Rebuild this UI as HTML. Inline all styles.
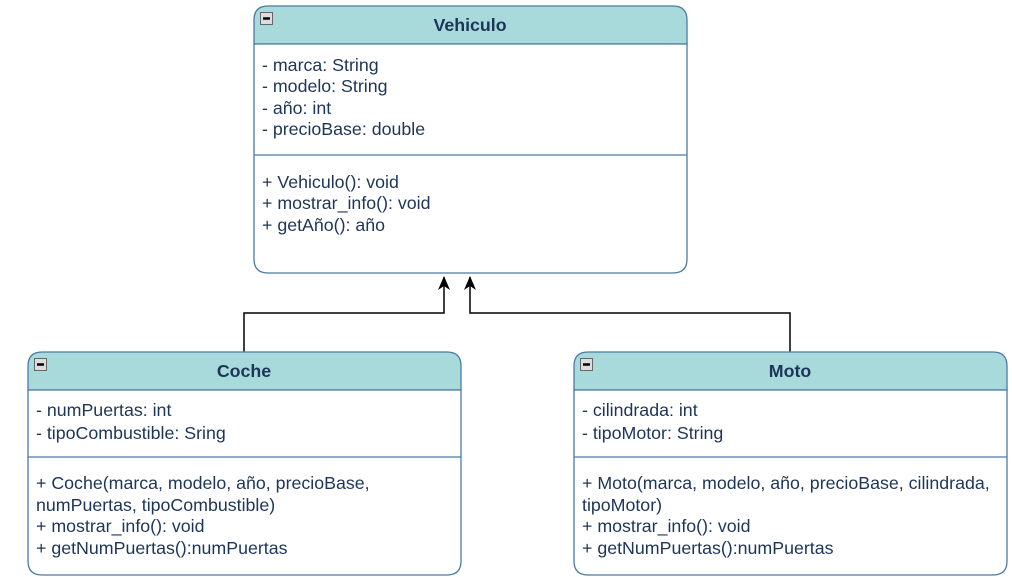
<!DOCTYPE html>
<html><head><meta charset="utf-8"><style>body{margin:0;background:#fff}svg{display:block}text{font-family:"Liberation Sans",Arial,sans-serif;font-size:17.8px;fill:#1d3557}</style></head><body>
<svg width="1012" height="577" viewBox="0 0 1012 577">
<defs><marker id="a" markerWidth="12" markerHeight="14" refX="6" refY="1" orient="0" markerUnits="userSpaceOnUse"><path d="M0,14 L6,0 L12,14 L6,10 Z" fill="#000"/></marker></defs>
<g fill="none" stroke="#000" stroke-width="1.5">
<path d="M244,352 V313 H444 V277" marker-end="url(#a)"/>
<path d="M790,352 V313 H470 V277" marker-end="url(#a)"/>
</g>
<g stroke="#4a7ba3" stroke-width="1.3">
<path d="M254,44 V20 Q254,6 268,6 H673 Q687,6 687,20 V44 Z" fill="#a8dadc"/>
<path d="M254,44 H687 V259 Q687,273 673,273 H268 Q254,273 254,259 Z" fill="#fff"/>
<line x1="254" y1="155" x2="687" y2="155"/>
<path d="M28,390 V366 Q28,352 42,352 H447 Q461,352 461,366 V390 Z" fill="#a8dadc"/>
<path d="M28,390 H461 V561 Q461,575 447,575 H42 Q28,575 28,561 Z" fill="#fff"/>
<line x1="28" y1="457" x2="461" y2="457"/>
<path d="M574,390 V366 Q574,352 588,352 H993 Q1007,352 1007,366 V390 Z" fill="#a8dadc"/>
<path d="M574,390 H1007 V561 Q1007,575 993,575 H588 Q574,575 574,561 Z" fill="#fff"/>
<line x1="574" y1="457" x2="1007" y2="457"/>
</g>
<g stroke="#666" stroke-width="1" fill="#ddd">
<rect x="260.5" y="12.5" width="12" height="12"/><rect x="34.5" y="358.5" width="12" height="12"/><rect x="580.5" y="358.5" width="12" height="12"/>
</g>
<g stroke="#000" stroke-width="2.5"><line x1="263" y1="18.5" x2="270" y2="18.5"/><line x1="37" y1="364.5" x2="44" y2="364.5"/><line x1="583" y1="364.5" x2="590" y2="364.5"/></g>
<g text-anchor="middle">
<text x="470" y="31" font-weight="bold">Vehiculo</text>
<text x="244" y="377" font-weight="bold">Coche</text>
<text x="790" y="377" font-weight="bold">Moto</text>
</g>
<text x="262" y="71">- marca: String</text>
<text x="262" y="92">- modelo: String</text>
<text x="262" y="114">- año: int</text>
<text x="262" y="135">- precioBase: double</text>
<text x="262" y="188">+ Vehiculo(): void</text>
<text x="262" y="209">+ mostrar_info(): void</text>
<text x="262" y="231">+ getAño(): año</text>
<text x="36" y="416">- numPuertas: int</text>
<text x="36" y="439">- tipoCombustible: Sring</text>
<text x="36" y="489">+ Coche(marca, modelo, año, precioBase,</text>
<text x="36" y="511">numPuertas, tipoCombustible)</text>
<text x="36" y="532">+ mostrar_info(): void</text>
<text x="36" y="554">+ getNumPuertas():numPuertas</text>
<text x="582" y="416">- cilindrada: int</text>
<text x="582" y="439">- tipoMotor: String</text>
<text x="582" y="489">+ Moto(marca, modelo, año, precioBase, cilindrada,</text>
<text x="582" y="511">tipoMotor)</text>
<text x="582" y="532">+ mostrar_info(): void</text>
<text x="582" y="554">+ getNumPuertas():numPuertas</text>
</svg>
</body></html>
